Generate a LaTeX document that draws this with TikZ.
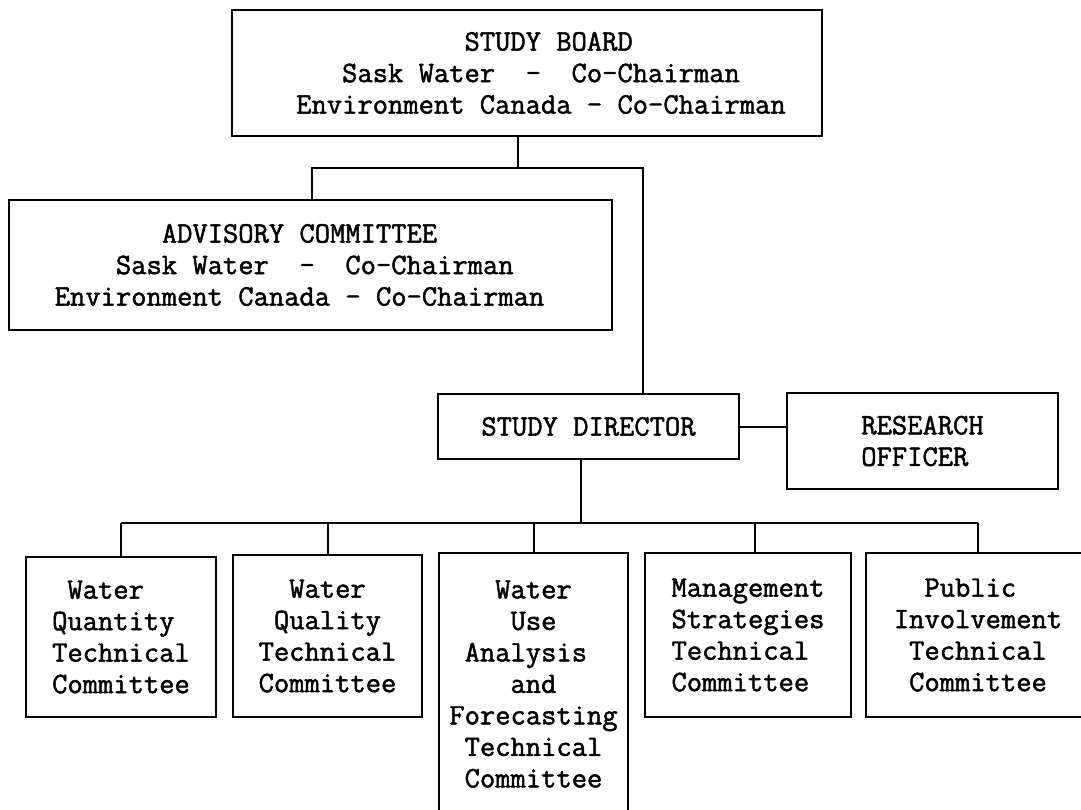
\documentclass[tikz,border=0pt]{standalone}
\usepackage{fontspec}
\newfontfamily\tw{Latin Modern Mono}[FakeBold=1.6]
\newcommand\lead{\rule{28pt}{0pt}}
\begin{document}
\begin{tikzpicture}[x=1pt,y=-1pt,
  box/.style={draw,line width=2pt,inner sep=0pt,align=left,
    font=\tw\fontsize{29.7}{31.5}\selectfont},
  link/.style={line width=2pt}]
\useasboundingbox (0,0) rectangle (1081,810);
\clip (0,0) rectangle (1081,810);
\fill[white] (0,0) rectangle (1081,810);

\node[box,minimum width=590pt,minimum height=126pt] (board) at (527,73)
  {\lead~~~~~~~~~~~STUDY BOARD\\\lead~~~Sask Water~~-~~Co-Chairman\\\lead Environment Canada - Co-Chairman};
\node[box,minimum width=603pt,minimum height=130pt] (adv) at (310.5,265)
  {~~~~~~~ADVISORY COMMITTEE\\~~~~Sask Water~~-~~Co-Chairman\\Environment Canada - Co-Chairman\rule{22pt}{0pt}};
\node[box,minimum width=301pt,minimum height=65pt] (sd) at (588.5,426.5) {STUDY DIRECTOR};
\node[box,minimum width=271pt,minimum height=96pt] (ro) at (922.5,441) {RESEARCH\\OFFICER};

\node[box,minimum width=190pt,minimum height=160pt] (b1) at (121,637)
  {~Water\\Quantity\\Technical\\Committee};
\node[box,minimum width=189pt,minimum height=162pt] (b2) at (327.5,636)
  {~~Water\\~Quality\\Technical\\Committee};
\node[box,minimum width=189pt,minimum height=262pt] (b3) at (533.5,684)
  {~~~Water\\~~~~Use\\~Analysis\\~~~~and\\Forecasting\\~Technical\\~Committee};
\node[box,minimum width=206pt,minimum height=164pt] (b4) at (748,635)
  {Management\\Strategies\\Technical\\Committee};
\node[box,minimum width=224pt,minimum height=164pt] (b5) at (978,635)
  {~~Public\\Involvement\\~Technical\\~Committee};

\coordinate (j1) at (518,168);
\coordinate (jl) at (312,168);
\coordinate (jr) at (643,168);
\coordinate (j2) at (581,523);
\coordinate (d4) at (755,523);

\draw[link] (board.south -| j1) -- (j1);
\draw[link] (adv.north -| jl) -- (jl) -- (jr) -- (sd.north -| jr);
\draw[link] (sd.east) -- (ro.west |- sd.east);
\draw[link] (sd.south -| j2) -- (j2);
\draw[link] (b1.north |- j2) -- (b5.north |- j2);
\draw[link] (b1.north) -- (b1.north |- j2);
\draw[link] (b2.north) -- (b2.north |- j2);
\draw[link] (b3.north) -- (b3.north |- j2);
\draw[link] (b4.north -| d4) -- (d4);
\draw[link] (b5.north) -- (b5.north |- j2);
\end{tikzpicture}
\end{document}
